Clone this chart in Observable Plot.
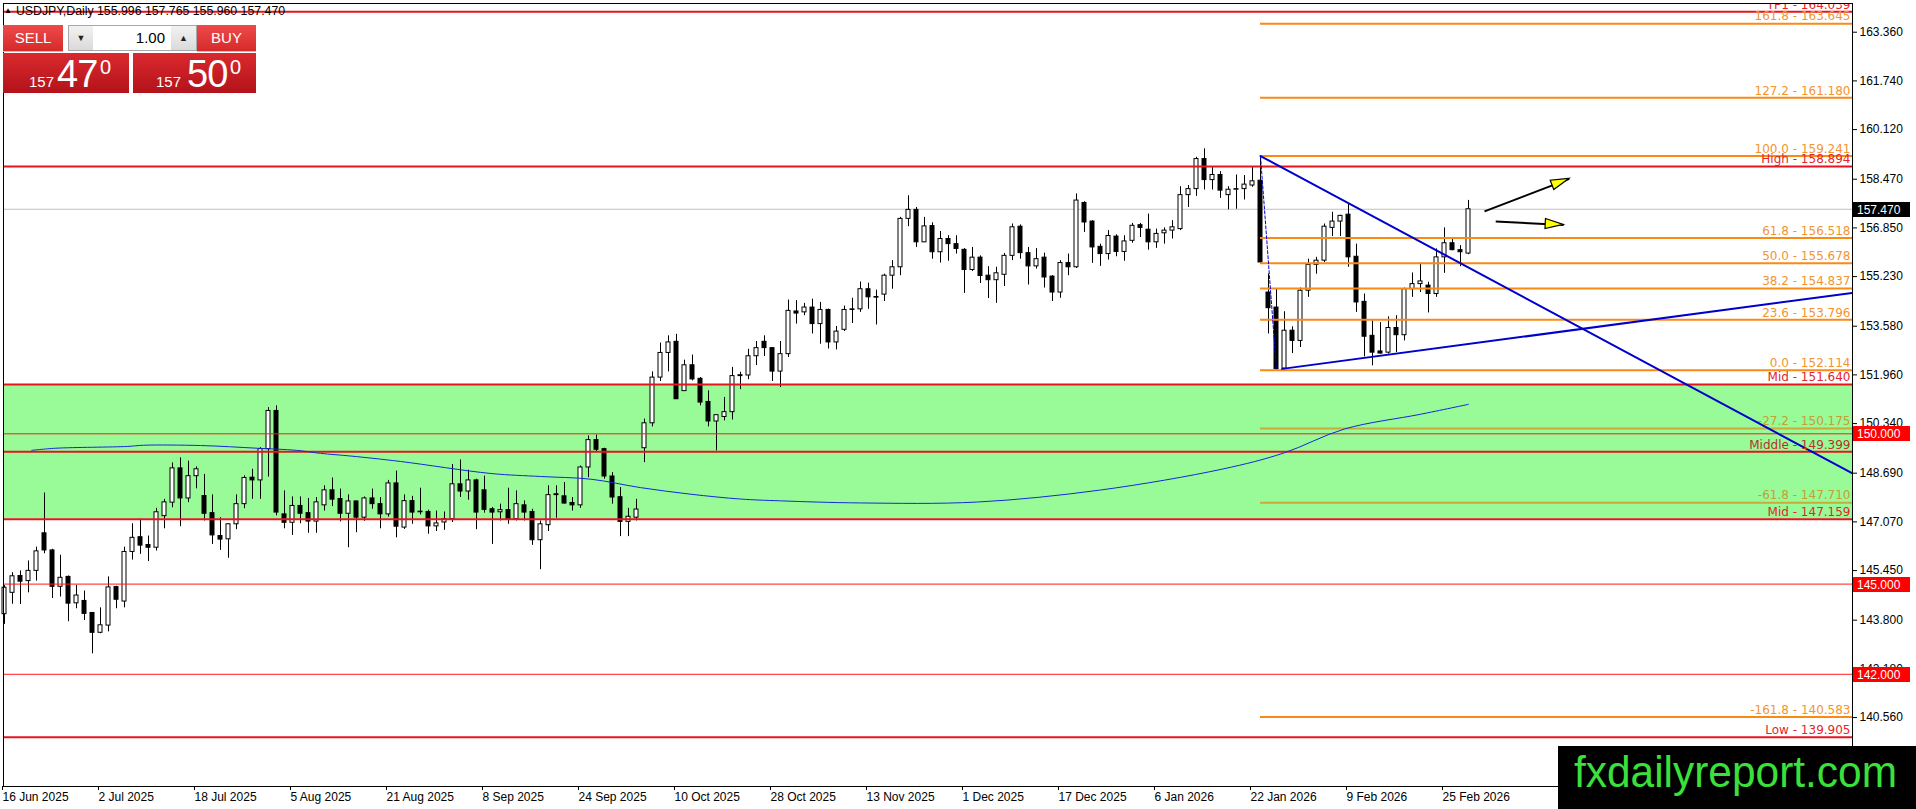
<!DOCTYPE html>
<html>
<head>
<meta charset="utf-8">
<script src="https://cdn.jsdelivr.net/npm/d3@7"></script>
<script src="https://cdn.jsdelivr.net/npm/@observablehq/plot@0.6"></script>
<style>
html,body{margin:0;padding:0;background:#fff;overflow:hidden}
#wrap{position:relative;width:1916px;height:809px;overflow:hidden}
#chart{position:absolute;left:0;top:0}
.ovl{position:absolute;box-sizing:border-box;font-family:"Liberation Sans",Arial,sans-serif}
.hdr{left:4px;top:4px;font-size:12.3px;color:#000;white-space:nowrap;line-height:14px}
.hdr .tri{font-size:8px;vertical-align:2px;margin-right:4px}
.btn{background:linear-gradient(#ee4a4a,#d62a2a);color:#fff;font-size:15px;text-align:center;line-height:25px;border-bottom:1px solid #f3b0b0}
.spin{background:#fff;border:1px solid #a8a8a8}
.sb{position:absolute;top:0;bottom:0;background:linear-gradient(#f2f2f2,#dadada);color:#222;font-size:9px;text-align:center;line-height:24px}
.lot{position:absolute;left:25px;right:26px;top:0;bottom:0;text-align:right;font-size:15px;line-height:24px;padding-right:5px;color:#000}
.px{background:linear-gradient(#d92a2e,#b3121a);color:#fff}
.px span{position:absolute;line-height:1;white-space:nowrap}
.s{font-size:15px}
.b{font-size:38px;letter-spacing:-1px}
.d{font-size:20px}
#wm{left:1558px;top:746px;width:358px;height:63px;background:#000}
</style>
</head>
<body>
<div id="wrap">
  <div id="chart"></div>
  <div class="ovl hdr" id="hdr"></div>
  <div class="ovl btn" style="left:3px;top:25px;width:60px;height:27px">SELL</div>
  <div class="ovl spin" style="left:68px;top:25px;width:129px;height:26px">
    <div class="sb" style="left:0;width:24px">&#9660;</div>
    <div class="lot" id="lot"></div>
    <div class="sb" style="right:0;width:25px">&#9650;</div>
  </div>
  <div class="ovl btn" style="left:197px;top:25px;width:59px;height:27px">BUY</div>
  <div class="ovl px" style="left:3px;top:53px;width:126px;height:40px" id="sellPx"></div>
  <div class="ovl px" style="left:133px;top:53px;width:123px;height:40px" id="buyPx"></div>
  <div class="ovl" id="wm">
    <svg width="358" height="63"><text x="16" y="41" fill="#3be03b" font-family="Liberation Sans Narrow, Liberation Sans, Arial, sans-serif" font-size="44" textLength="323" lengthAdjust="spacingAndGlyphs">fxdailyreport.com</text></svg>
  </div>
</div>
<script>
// ---------------- data ----------------
const symbol = "USDJPY,Daily";
const lotSize = "1.00";
const bid = 157.470;
const ask = 157.500;

const open = [
144.00,144.71,145.27,145.10,145.44,146.69,146.12,144.91,145.24,144.36,
144.44,144.04,143.38,143.62,144.90,144.42,146.07,146.56,146.30,146.21,
147.26,147.71,148.85,147.85,148.59,147.93,147.36,146.60,146.49,146.99,
147.66,148.54,148.45,149.49,150.76,147.32,147.04,147.60,147.36,147.08,
147.62,148.12,147.83,147.34,147.75,147.21,147.85,147.66,147.32,148.35,
146.88,147.76,147.41,147.40,146.92,147.05,147.16,148.32,148.08,148.45,
148.12,147.49,147.39,147.46,147.16,147.62,147.40,146.46,146.96,147.96,
147.92,147.70,147.62,148.88,149.79,149.49,148.58,147.89,147.07,147.21,
149.52,150.35,151.87,152.69,153.06,151.42,152.28,151.83,151.06,150.41,
150.56,150.72,151.92,151.94,152.58,153.06,152.85,152.07,152.65,154.07,
154.04,154.20,153.65,154.12,153.04,153.46,154.12,154.14,154.81,154.55,
154.63,155.26,155.54,157.15,157.45,156.37,156.91,156.04,156.48,156.31,
156.12,155.45,155.86,155.26,155.11,155.29,155.92,156.89,156.01,155.57,
155.86,155.23,154.70,155.68,155.54,157.68,157.06,156.22,155.98,156.56,
156.05,156.42,156.94,156.79,156.37,156.67,156.76,156.81,157.94,158.14,
159.14,158.44,158.61,157.94,158.12,158.14,158.26,158.42,154.70,154.20,
152.17,153.43,153.09,154.76,155.62,155.76,156.85,157.06,157.29,155.89,
154.39,153.26,152.74,152.70,153.52,153.28,154.81,154.98,154.93,154.65,
155.87,156.34,156.11,155.996];
const high = [
144.95,145.38,145.44,145.77,146.23,148.03,146.16,145.96,145.27,144.96,
144.77,144.05,144.21,145.24,144.93,146.23,147.01,147.16,146.60,147.52,
147.82,149.03,149.20,149.09,148.90,148.65,147.97,147.21,147.01,147.97,
148.60,148.82,149.54,150.87,150.93,148.10,147.90,147.90,147.85,147.88,
148.27,148.53,148.16,147.97,147.76,147.90,148.16,147.88,148.45,148.76,
147.97,147.92,148.19,147.46,147.43,147.40,148.98,149.13,148.79,148.49,
148.59,147.55,147.66,148.19,148.10,147.77,147.49,147.10,148.27,148.27,
148.38,147.88,148.93,149.93,149.96,149.52,148.71,148.21,147.52,147.82,
150.49,152.06,153.02,153.26,153.31,152.45,152.62,151.87,151.43,150.64,
151.21,152.21,152.05,152.81,153.07,153.26,152.87,153.07,154.45,154.43,
154.34,154.48,154.37,154.15,153.57,154.25,154.51,155.05,155.01,154.78,
155.31,155.76,157.20,157.92,157.53,157.20,157.02,156.73,156.59,156.59,
156.16,156.20,155.92,155.56,155.54,156.00,156.98,156.95,156.20,156.16,
156.01,155.26,155.76,155.98,157.98,157.72,157.09,156.31,156.76,156.62,
156.59,157.00,157.00,157.31,156.81,156.85,157.09,158.22,158.26,159.20,
159.48,158.89,158.72,158.22,158.61,158.59,158.89,159.241,155.32,154.81,
154.06,153.56,154.85,155.81,155.87,156.98,157.37,157.27,157.64,156.31,
154.65,153.76,153.70,153.89,153.93,154.85,155.35,155.68,155.04,156.15,
156.85,156.48,156.26,157.765];
const low = [
143.66,144.33,144.32,144.71,145.10,146.01,144.52,144.57,143.75,144.18,
143.79,142.68,143.35,143.41,144.18,144.21,145.80,145.99,145.75,146.10,
146.84,147.54,146.91,147.71,148.17,147.10,146.32,146.12,145.86,146.81,
147.51,147.82,147.82,148.56,147.27,146.84,146.62,147.01,146.69,146.69,
147.43,147.58,147.07,146.21,146.71,147.09,147.49,146.84,147.23,146.54,
146.82,146.99,147.30,146.66,146.75,146.79,147.05,147.88,147.79,146.81,
147.36,146.32,147.10,146.99,147.10,147.10,146.29,145.48,146.75,147.19,
147.66,147.43,147.52,148.54,149.41,148.49,147.66,146.58,146.58,147.10,
149.04,150.23,151.74,152.06,151.14,151.41,151.76,150.93,150.23,149.43,
150.43,150.46,151.47,151.80,152.27,152.57,151.74,151.54,152.54,153.65,
153.93,153.32,152.98,152.82,152.79,153.40,153.67,154.04,154.14,153.62,
154.40,154.81,155.26,156.89,156.20,156.36,155.81,155.68,155.74,155.98,
154.67,155.40,155.00,154.50,154.34,154.90,155.76,155.81,154.95,155.48,
154.85,154.40,154.51,155.26,155.50,156.70,155.67,155.57,155.78,155.89,
155.74,156.34,156.53,156.11,156.17,156.31,156.48,156.76,157.53,157.90,
158.11,158.11,157.83,157.45,157.47,157.78,158.20,155.65,153.32,152.114,
152.12,152.67,152.87,154.54,155.31,155.70,156.56,156.56,155.54,154.04,
152.56,152.26,152.65,152.65,152.70,153.09,154.54,154.70,154.02,154.54,
155.34,156.09,155.56,155.960];
const close = [
144.88,145.26,145.08,145.44,146.09,146.12,144.91,145.21,144.35,144.62,
144.01,143.38,143.63,144.89,144.48,146.07,146.54,146.28,146.21,147.39,
147.72,148.85,147.85,148.59,148.82,147.34,146.62,146.48,146.99,147.66,
148.53,148.45,149.49,150.76,147.38,147.04,147.60,147.34,147.08,147.72,
148.12,147.81,147.34,147.75,147.21,147.85,147.66,147.32,148.35,146.91,
147.76,147.38,147.39,146.92,147.02,147.16,148.32,148.08,148.45,147.38,
147.47,147.38,147.46,147.16,147.66,147.38,146.46,146.99,147.96,147.99,
147.68,147.62,148.88,149.79,149.47,148.58,147.88,147.07,147.24,147.48,
150.35,151.87,152.69,153.04,151.15,152.28,151.81,151.04,150.41,150.62,
150.72,151.92,151.95,152.58,152.85,152.85,152.07,152.65,154.09,154.00,
154.20,153.65,154.12,153.04,153.40,154.12,154.14,154.81,154.54,154.53,
155.26,155.54,157.15,157.45,156.37,156.90,156.04,156.48,156.31,156.15,
155.45,155.86,155.25,155.11,155.34,155.92,156.87,156.01,155.57,155.81,
155.20,154.70,155.68,155.54,157.76,157.03,156.20,155.98,156.58,156.05,
156.40,156.92,156.85,156.37,156.65,156.76,156.87,157.94,158.14,159.14,
158.44,158.61,158.09,158.12,158.14,158.29,158.40,155.70,154.18,152.15,
153.43,153.09,154.76,155.62,155.76,156.89,157.06,157.25,155.87,154.37,
153.23,152.70,152.67,153.52,153.28,154.81,154.98,155.07,154.65,155.87,
156.34,156.11,156.04,157.470];

// moving average, read at sample bars
const maBar = [3.4,6.4,15.4,17.4,24.5,31.6,36.5,39.5,43.3,49.5,60.8,67,73.3,79.5,85.8,92,97,107,121.6,137,152.3,159.9,167.5,177,183];
const maVal = [149.45,149.52,149.58,149.62,149.61,149.52,149.45,149.35,149.26,149.08,148.68,148.58,148.49,148.21,147.99,147.83,147.77,147.70,147.73,148.13,148.83,149.36,150.16,150.65,150.98];

// Fibonacci retracement (anchored high -> low)
const fibRatio = ["161.8","127.2","100.0","61.8","50.0","38.2","23.6","0.0","-27.2","-61.8","-161.8"];
const fibPrice = [163.645,161.180,159.241,156.518,155.678,154.837,153.796,152.114,150.175,147.710,140.583];
const fibAnchorBar = [157, 159];
const fibAnchorPrice = [159.241, 152.114];

// named horizontal levels
const keyName = ["TP1","High","Mid","Middle","Mid","Low"];
const keyPrice = [164.039,158.894,151.640,149.399,147.159,139.905];
const roundLevels = [150.000,145.000,142.000];
const zoneLow = 147.159, zoneHigh = 151.640;

// trend lines
const downTrendBar = [157, 231];
const downTrendPrice = [159.241, 148.68];
const upTrendBar = [159.7, 231];
const upTrendPrice = [152.16, 154.69];

// arrows
const arrowFromBar = [185.0, 186.4];
const arrowFromPrice = [157.40, 157.06];
const arrowToBar = [195.6, 194.9];
const arrowToPrice = [158.48, 156.95];

// axes
const yTicks = [163.360,161.740,160.120,158.470,156.850,155.230,153.580,151.960,150.340,148.690,147.070,145.450,143.800,142.180,140.560];
const xTickBar = [0,12,24,36,48,60,72,84,96,108,120,132,144,156,168,180];
const xTickLabels = ["16 Jun 2025","2 Jul 2025","18 Jul 2025","5 Aug 2025","21 Aug 2025","8 Sep 2025","24 Sep 2025","10 Oct 2025","28 Oct 2025","13 Nov 2025","1 Dec 2025","17 Dec 2025","6 Jan 2026","22 Jan 2026","9 Feb 2026","25 Feb 2026"];

// ---------------- tables ----------------
const candles = open.map((o, i) => ({i, o, h: high[i], l: low[i], c: close[i]}));
const ma = maBar.map((b, k) => ({i: b, v: maVal[k]}));
const fib = fibPrice.map((p, k) => ({p, label: `${fibRatio[k]} - ${p.toFixed(3)}`}));
const keys = keyPrice.map((p, k) => ({p, label: `${keyName[k]} - ${p.toFixed(3)}`}));
const downTrend = downTrendBar.map((b, k) => ({i: b, p: downTrendPrice[k]}));
const upTrend = upTrendBar.map((b, k) => ({i: b, p: upTrendPrice[k]}));
const anchor = fibAnchorBar.map((b, k) => ({i: b, p: fibAnchorPrice[k]}));
const arrows = arrowFromBar.map((b, k) => ({i1: b, p1: arrowFromPrice[k], i2: arrowToBar[k], p2: arrowToPrice[k]}));

const inZone = p => p > zoneLow && p < zoneHigh;
const xDomain = [-0.125, 231];
const yDomain = [138.267, 164.315];
const RED = "#e6141e", ORANGE = "#fb8a14", BLUE = "#0000cd";

const chart = Plot.plot({
  width: 1916, height: 809,
  marginLeft: 3, marginRight: 64, marginTop: 3, marginBottom: 23,
  x: {domain: xDomain, axis: null},
  y: {domain: yDomain, axis: null},
  style: {fontFamily: "Liberation Sans, Arial, sans-serif", fontSize: "12px", background: "white", color: "black"},
  marks: [
    Plot.rect([{lo: zoneLow, hi: zoneHigh}], {y1: "lo", y2: "hi", fill: "#98fb98"}),
    Plot.ruleY([bid], {stroke: "#c0c0c0", strokeWidth: 1}),
    // candles
    Plot.ruleX(candles, {x: "i", y1: "l", y2: "h", stroke: "black", strokeWidth: 1}),
    Plot.rect(candles, {x1: d => d.i - 0.25, x2: d => d.i + 0.25, y1: "o", y2: "c",
      fill: d => d.c >= d.o ? "white" : "black", stroke: "black", strokeWidth: 1}),
    // levels
    Plot.ruleY(roundLevels, {stroke: "#ff1a1a", strokeWidth: 1}),
    Plot.ruleY(keys, {y: "p", stroke: RED, strokeWidth: 2}),
    Plot.ruleY(fib, {y: "p", x1: fibAnchorBar[0], x2: xDomain[1],
      stroke: d => inZone(d.p) ? "#c9aa3a" : ORANGE, strokeWidth: 2}),
    // indicator + trend lines
    Plot.line(ma, {x: "i", y: "v", stroke: "#1428d8", strokeWidth: 1, curve: "catmull-rom"}),
    Plot.line(anchor, {x: "i", y: "p", stroke: BLUE, strokeWidth: 1, strokeDasharray: "3,2"}),
    Plot.line(downTrend, {x: "i", y: "p", stroke: BLUE, strokeWidth: 2, clip: true}),
    Plot.line(upTrend, {x: "i", y: "p", stroke: BLUE, strokeWidth: 2, clip: true}),
    Plot.link(arrows, {x1: "i1", y1: "p1", x2: "i2", y2: "p2", stroke: "black", strokeWidth: 2}),
    // labels
    Plot.text(fib, {x: xDomain[1], y: "p", text: "label", textAnchor: "end", dx: -2, dy: -7,
      fill: d => inZone(d.p) ? "#c2a032" : "#f29530", fontFamily: "DejaVu Sans, Verdana, sans-serif", fontSize: 12, clip: true}),
    Plot.text(keys, {x: xDomain[1], y: "p", text: "label", textAnchor: "end", dx: -2, dy: -7,
      fill: d => inZone(d.p) ? "#b8322a" : "#e3262b", fontFamily: "DejaVu Sans, Verdana, sans-serif", fontSize: 12, clip: true}),
    // axes
    Plot.axisY(yTicks, {anchor: "right", tickSize: 4, tickPadding: 3, tickFormat: d => d.toFixed(3), fontSize: 12,
      fontFamily: "Liberation Sans, Arial, sans-serif"}),
    Plot.axisX(xTickBar, {anchor: "bottom", tickSize: 4, tickPadding: 2, textAnchor: "start", dx: -2,
      tickFormat: d => xTickLabels[xTickBar.indexOf(d)], fontSize: 12, fontFamily: "Liberation Sans, Arial, sans-serif"}),
    Plot.frame({stroke: "black"})
  ]
});
document.getElementById("chart").appendChild(chart);

// ---- overlays drawn through the chart's own scales ----
const sx = chart.scale("x"), sy = chart.scale("y");
const svg = d3.select(chart);
const g = svg.append("g").attr("text-anchor", "start");
const right = sx.apply(xDomain[1]);

// arrow heads
arrows.forEach(a => {
  const x1 = sx.apply(a.i1), y1 = sy.apply(a.p1), x2 = sx.apply(a.i2), y2 = sy.apply(a.p2);
  const len = Math.hypot(x2 - x1, y2 - y1), ux = (x2 - x1) / len, uy = (y2 - y1) / len;
  const L = 18, hw = 5, bx = x2 - ux * L, by = y2 - uy * L;
  g.append("polygon")
    .attr("points", `${x2},${y2} ${bx - uy * hw},${by + ux * hw} ${bx + uy * hw},${by - ux * hw}`)
    .attr("fill", "#ffff00").attr("stroke", "black").attr("stroke-width", 1.2);
});

// price badges on the axis
[{v: bid, bg: "#000"}, ...roundLevels.map(v => ({v, bg: "#ff0000"}))].forEach(b => {
  const y = Math.round(sy.apply(b.v));
  g.append("rect").attr("x", right + 1).attr("y", y - 7).attr("width", 57).attr("height", 15).attr("fill", b.bg);
  g.append("text").attr("x", right + 5).attr("y", y + 0.5).attr("dy", "0.35em").attr("fill", "white")
    .attr("text-anchor", "start")
    .attr("font-family", "Liberation Sans, Arial, sans-serif").attr("font-size", 12).text(b.v.toFixed(3));
});

// header texts
const last = candles.length - 1;
document.getElementById("hdr").innerHTML = `<span class="tri">&#9650;</span>${symbol} ${open[last].toFixed(3)} ${high[last].toFixed(3)} ${low[last].toFixed(3)} ${close[last].toFixed(3)}`;
document.getElementById("lot").textContent = lotSize;
function priceBox(el, v, xs) {
  const s = v.toFixed(3);
  el.innerHTML = `<span class="s" style="left:${xs[0]}px;top:21px">${s.slice(0,3)}</span>` +
    `<span class="b" style="left:${xs[1]}px;top:2px">${s.slice(4,6)}</span>` +
    `<span class="d" style="left:${xs[2]}px;top:4px">${s.slice(6)}</span>`;
}
priceBox(document.getElementById("sellPx"), bid, [26, 54, 97]);
priceBox(document.getElementById("buyPx"), ask, [23, 54, 97]);
</script>
</body>
</html>
